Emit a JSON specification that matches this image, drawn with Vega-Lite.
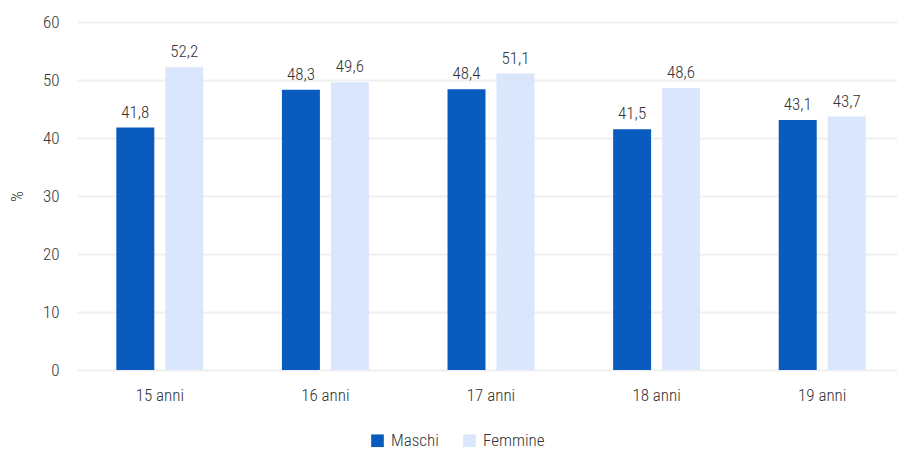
{
  "$schema": "https://vega.github.io/schema/vega-lite/v6.json",
  "width": 828,
  "height": 348,
  "autosize": "none",
  "padding": {"left": 77, "top": 22, "right": 0, "bottom": 80},
  "background": "white",
  "config": {
    "view": {"stroke": null},
    "font": "Roboto Condensed, DejaVu Sans Condensed, Roboto, sans-serif",
    "locale": {"number": {"decimal": ",", "thousands": ".", "grouping": [3], "currency": ["€", ""]}}
  },
  "data": {
    "values": [
      {"eta": "15 anni", "sesso": "Maschi", "valore": 41.8},
      {"eta": "15 anni", "sesso": "Femmine", "valore": 52.2},
      {"eta": "16 anni", "sesso": "Maschi", "valore": 48.3},
      {"eta": "16 anni", "sesso": "Femmine", "valore": 49.6},
      {"eta": "17 anni", "sesso": "Maschi", "valore": 48.4},
      {"eta": "17 anni", "sesso": "Femmine", "valore": 51.1},
      {"eta": "18 anni", "sesso": "Maschi", "valore": 41.5},
      {"eta": "18 anni", "sesso": "Femmine", "valore": 48.6},
      {"eta": "19 anni", "sesso": "Maschi", "valore": 43.1},
      {"eta": "19 anni", "sesso": "Femmine", "valore": 43.7}
    ]
  },
  "encoding": {
    "x": {
      "field": "eta", "type": "nominal", "title": null,
      "scale": {"paddingInner": 0.475, "paddingOuter": 0.2375},
      "axis": {"domain": false, "ticks": false, "labelAngle": 0, "labelFontSize": 17, "labelFontWeight": 300, "labelColor": "#333333", "labelPadding": 17}
    },
    "xOffset": {"field": "sesso", "type": "nominal", "sort": ["Maschi", "Femmine"], "scale": {"paddingInner": 0.2245, "paddingOuter": 0}},
    "y": {
      "field": "valore", "type": "quantitative", "title": "%",
      "scale": {"domain": [0, 60], "nice": false},
      "axis": {"values": [0, 10, 20, 30, 40, 50, 60], "domain": false, "ticks": false, "labelFontSize": 17, "labelFontWeight": 300, "labelColor": "#333333", "labelPadding": 18, "gridColor": "#efefef", "gridWidth": 2, "titleFontSize": 17, "titleFontWeight": 300, "titleColor": "#333333", "titlePadding": 16}
    }
  },
  "layer": [
    {
      "mark": {"type": "bar"},
      "encoding": {
        "color": {
          "field": "sesso", "type": "nominal", "sort": ["Maschi", "Femmine"], "title": null,
          "scale": {"domain": ["Maschi", "Femmine"], "range": ["#0A5BBE", "#dae6fb"]},
          "legend": {"orient": "none", "legendX": 292, "legendY": 410, "direction": "horizontal", "symbolType": "square", "symbolSize": 160, "symbolStrokeWidth": 0, "labelFontSize": 17, "labelFontWeight": 300, "labelColor": "#333333", "columnPadding": 22, "labelOffset": 5}
        }
      }
    },
    {
      "mark": {"type": "text", "dy": -15, "fontSize": 17, "fontWeight": 300, "color": "#333333"},
      "encoding": {"text": {"field": "valore", "type": "quantitative", "format": ".1f"}}
    }
  ]
}
